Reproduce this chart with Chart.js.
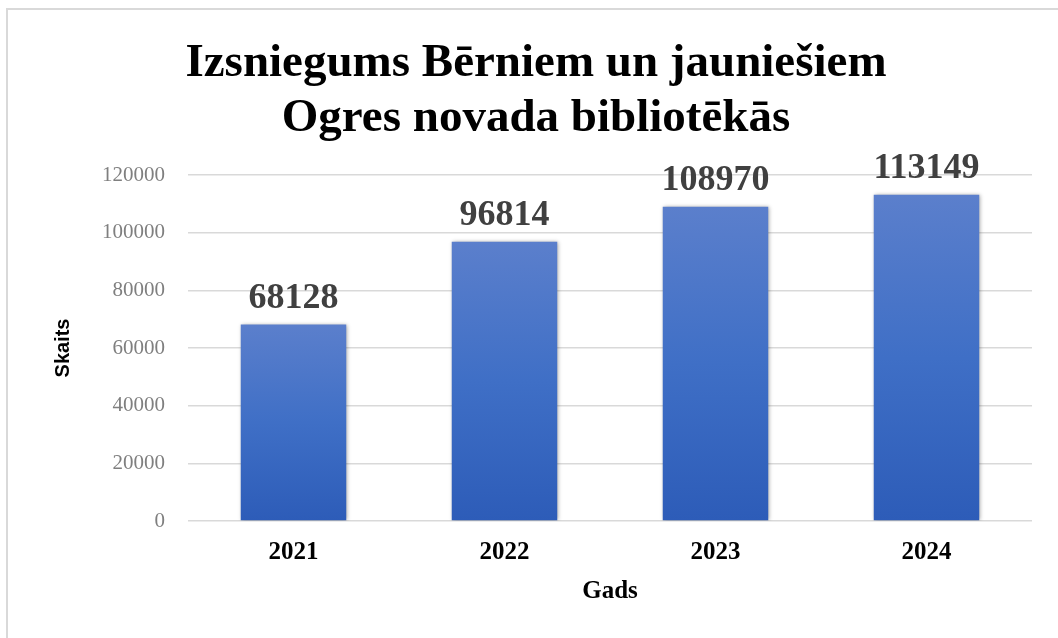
<!DOCTYPE html>
<html>
<head>
<meta charset="utf-8">
<script src="https://cdn.jsdelivr.net/npm/chart.js@4.4.1/dist/chart.umd.min.js"></script>
<style>
  html, body { margin: 0; padding: 0; background: #ffffff; }
  #wrap { position: relative; width: 1058px; height: 638px; overflow: hidden; }
  #frame { position: absolute; left: 6px; top: 8px; width: 1060px; height: 640px;
           border-top: 2px solid #d9d9d9; border-left: 2px solid #d9d9d9; pointer-events: none; }
  canvas { position: absolute; left: 0; top: 0; }
</style>
</head>
<body>
<div id="wrap">
  <canvas id="c" width="1058" height="638"></canvas>
  <div id="frame"></div>
</div>
<script>
const titleLines = ["Izsniegums Bērniem un jauniešiem", "Ogres novada bibliotēkās"];
const categories = ["2021", "2022", "2023", "2024"];
const values = [68128, 96814, 108970, 113149];
const yTicks = [0, 20000, 40000, 60000, 80000, 100000, 120000];
const yAxisTitle = "Skaits";
const xAxisTitle = "Gads";

const serif = "'Liberation Serif', 'Times New Roman', serif";

const barGradient = (ctx) => {
  const chart = ctx.chart;
  const y = chart.scales.y;
  if (!y || ctx.type !== 'data') return '#4472c4';
  const top = y.getPixelForValue(ctx.raw);
  const base = y.getPixelForValue(0);
  if (!isFinite(top) || !isFinite(base) || top === base) return '#4472c4';
  const g = chart.ctx.createLinearGradient(0, top, 0, base);
  g.addColorStop(0, '#5b7fcc');
  g.addColorStop(0.5, '#3f6fc6');
  g.addColorStop(1, '#2d5cb8');
  return g;
};

const labelPlugin = {
  id: 'valueLabels',
  beforeDatasetsDraw(chart) {
    const c = chart.ctx;
    c.save();
    c.shadowColor = 'rgba(0,0,0,0.35)';
    c.shadowBlur = 4;
    c.shadowOffsetX = 1;
    c.shadowOffsetY = 0;
  },
  afterDatasetsDraw(chart) {
    const c = chart.ctx;
    c.restore();
    const meta = chart.getDatasetMeta(0);
    c.save();
    c.font = "bold 36px " + serif;
    c.fillStyle = '#404040';
    c.textAlign = 'center';
    c.textBaseline = 'alphabetic';
    meta.data.forEach((bar, i) => {
      c.fillText(String(values[i]), bar.x, bar.y - 17);
    });
    c.restore();
  }
};

new Chart(document.getElementById('c'), {
  type: 'bar',
  data: {
    labels: categories,
    datasets: [{
      data: values,
      backgroundColor: barGradient,
      borderWidth: 0,
      categoryPercentage: 1.0,
      barPercentage: 0.5
    }]
  },
  options: {
    responsive: false,
    animation: false,
    events: [],
    layout: { padding: { left: 40, right: 26, top: 0, bottom: 0 } },
    plugins: {
      legend: { display: false },
      tooltip: { enabled: false },
      title: {
        display: true,
        text: titleLines,
        color: '#000000',
        font: { family: serif, size: 47, weight: 'bold', lineHeight: '55px' },
        padding: { top: 36, bottom: 29 }
      }
    },
    scales: {
      x: {
        grid: { display: false, drawTicks: false },
        border: { display: false },
        ticks: { color: '#000000', font: { family: serif, size: 25, weight: 'bold' }, padding: 17 },
        title: { display: true, text: xAxisTitle, color: '#000000',
                 font: { family: serif, size: 25, weight: 'bold' }, padding: { top: 4, bottom: 31 } },
        afterFit(scale) { scale.height = 117; }
      },
      y: {
        min: 0,
        max: 120000,
        grid: { color: '#d9d9d9', lineWidth: 1.5, drawTicks: false },
        border: { display: false },
        afterBuildTicks(scale) { scale.ticks = yTicks.map(v => ({ value: v })); },
        ticks: { color: '#7f7f7f', font: { family: serif, size: 21 }, padding: 23,
                 callback: (v) => String(v) },
        title: { display: true, text: yAxisTitle, color: '#000000',
                 font: { family: "'Liberation Sans', Arial, sans-serif", size: 20, weight: 'bold' },
                 padding: { top: 11, bottom: 0 } },
        afterFit(scale) { scale.width = 148; }
      }
    }
  },
  plugins: [labelPlugin]
});
</script>
</body>
</html>
